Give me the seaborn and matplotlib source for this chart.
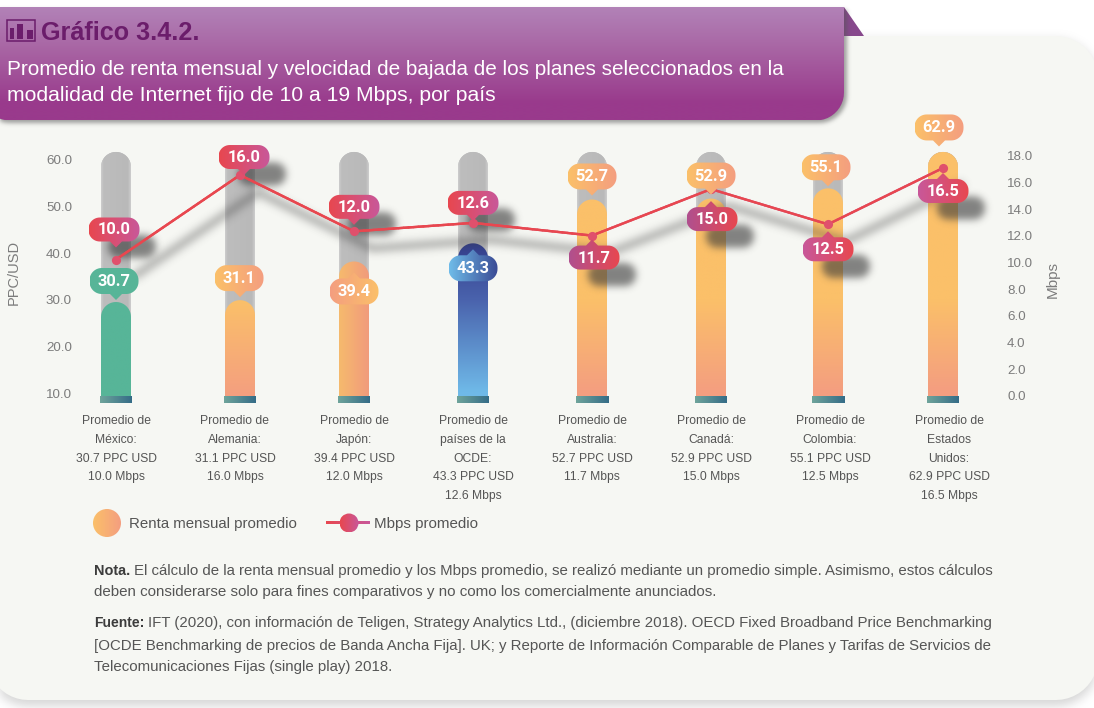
import numpy as np
import pandas as pd
import matplotlib
matplotlib.use("Agg")
import matplotlib.pyplot as plt
import seaborn as sns
from matplotlib.path import Path
from matplotlib.patches import PathPatch, Rectangle, Circle, Polygon
from matplotlib.collections import LineCollection
from matplotlib.colors import to_rgb
from matplotlib.transforms import IdentityTransform
from matplotlib.figure import Figure
from matplotlib.backends.backend_agg import FigureCanvasAgg

# ---------- data ----------
paises_lineas = [["México:"], ["Alemania:"], ["Japón:"], ["países de la", "OCDE:"],
                 ["Australia:"], ["Canadá:"], ["Colombia:"], ["Estados", "Unidos:"]]
ppc = [30.7, 31.1, 39.4, 43.3, 52.7, 52.9, 55.1, 62.9]
mbps = [10.0, 16.0, 12.0, 12.6, 11.7, 15.0, 12.5, 16.5]
ppc_ticks = [10, 20, 30, 40, 50, 60]
mbps_ticks = [0, 2, 4, 6, 8, 10, 12, 14, 16, 18]
titulo = "Gráfico 3.4.2."
subtitulo = ["Promedio de renta mensual y velocidad de bajada de los planes seleccionados en la",
             "modalidad de Internet fijo de 10 a 19 Mbps, por país"]

# ---------- layout / style (pixels of the 1094x708 picture) ----------
W, H = 1094, 708
AX_L, AX_R, AX_T, AX_B = 56.5, 1008.5, 140.0, 403.0
BAR_NUDGE = [0, 5, 0, 0, 0, 0, -2, -6]
PPC_LABEL = [(-2, -21), (-1, -22), (0, 30), (0, 25), (0, -23), (0, -23), (-2, -21), (-4, -24.5)]
MB_LABEL = [(-2, -30), (4, -18), (0, -24.5), (0, -20), (2, 22), (1, 30), (0, 25), (0, 23)]
RED, PINK, PINK2 = "#e8474f", "#c8589a", "#b0508f"
ORANGE, SALMON = "#fbc069", "#f49e80"
GREEN = "#57b598"
TXT = "#555555"
TICK = "#7c7c7c"
FONT = "Liberation Sans"

sns.set_theme(style="white")
plt.rcParams["font.family"] = [FONT, "DejaVu Sans"]
fig = plt.figure(figsize=(W / 100, H / 100), dpi=100, facecolor="white")


def px_axes(z):
    a = fig.add_axes([0, 0, 1, 1], zorder=z)
    a.set_xlim(0, W)
    a.set_ylim(H, 0)
    a.axis("off")
    a.patch.set_alpha(0)
    return a


def chart_axes(z):
    a = fig.add_axes([AX_L / W, 1 - AX_B / H, (AX_R - AX_L) / W, (AX_B - AX_T) / H], zorder=z)
    a.patch.set_alpha(0)
    return a


def ramp(stops, n=256):
    ts = np.linspace(0, 1, n)
    pos = [s[0] for s in stops]
    rgb = np.array([to_rgb(s[1]) for s in stops])
    return np.stack([np.interp(ts, pos, rgb[:, i]) for i in range(3)], axis=1)


def grad(a, extent, stops, vertical=True, clip=None, clip_tr=None, z=2):
    c = ramp(stops)
    img = c[:, None, :] if vertical else c[None, :, :]
    xl, yl = a.get_xlim(), a.get_ylim()
    im = a.imshow(img, extent=extent, origin="upper", aspect="auto", zorder=z, interpolation="bilinear")
    if clip is not None:
        im.set_clip_path(clip, clip_tr if clip_tr is not None else a.transData)
    a.set_xlim(xl)
    a.set_ylim(yl)
    return im


def arc(cx, cy, r, a0, a1, n=12):
    t = np.radians(np.linspace(a0, a1, n))
    return np.c_[cx + r * np.cos(t), cy + r * np.sin(t)]


def rounded(x0, y0, x1, y1, rtl=0, rtr=0, rbr=0, rbl=0, ptr=None):
    """Closed polygon in y-down pixels; ptr=(side, x) adds a small pointer."""
    pts = []
    if rtl:
        pts.append(arc(x0 + rtl, y0 + rtl, rtl, 180, 270))
    else:
        pts.append(np.array([[x0, y0]]))
    if ptr and ptr[0] == "top":
        pts.append(np.array([[ptr[1] - 6, y0], [ptr[1], y0 - 6], [ptr[1] + 6, y0]]))
    if rtr:
        pts.append(arc(x1 - rtr, y0 + rtr, rtr, 270, 360))
    else:
        pts.append(np.array([[x1, y0]]))
    if rbr:
        pts.append(arc(x1 - rbr, y1 - rbr, rbr, 0, 90))
    else:
        pts.append(np.array([[x1, y1]]))
    if ptr and ptr[0] == "bottom":
        pts.append(np.array([[ptr[1] + 6, y1], [ptr[1], y1 + 6], [ptr[1] - 6, y1]]))
    if rbl:
        pts.append(arc(x0 + rbl, y1 - rbl, rbl, 90, 180))
    else:
        pts.append(np.array([[x0, y1]]))
    v = np.vstack(pts)
    return Path(np.vstack([v, v[0]]), closed=True)


def to_disp(path):
    v = path.vertices.copy()
    v[:, 1] = H - v[:, 1]
    return Path(v, closed=True)


def blur_layer(painter, sigma, colour, peak):
    f = Figure(figsize=(W / 100, H / 100), dpi=100, facecolor=(0, 0, 0, 0))
    c = FigureCanvasAgg(f)
    a = f.add_axes([0, 0, 1, 1])
    a.set_xlim(0, W)
    a.set_ylim(H, 0)
    a.axis("off")
    a.patch.set_alpha(0)
    painter(a)
    c.draw()
    al = np.asarray(c.buffer_rgba())[:, :, 3].astype(float) / 255
    x = np.arange(-int(3 * sigma), int(3 * sigma) + 1)
    k = np.exp(-x ** 2 / (2 * sigma ** 2))
    k /= k.sum()
    al = np.apply_along_axis(lambda r: np.convolve(r, k, mode="same"), 0, al)
    al = np.apply_along_axis(lambda r: np.convolve(r, k, mode="same"), 1, al)
    rgba = np.zeros((H, W, 4))
    rgba[:, :, :3] = to_rgb(colour)
    rgba[:, :, 3] = np.clip(al * peak, 0, 1)
    return rgba


# ---------- page ----------
bg = px_axes(0)
card = rounded(-12, 36, 1098, 700, 40, 42, 42, 40)
bg.imshow(blur_layer(lambda a: a.add_patch(PathPatch(rounded(-12, 40, 1098, 706, 40, 42, 42, 40), fc="k", lw=0)),
                     5, "#888888", 0.34), extent=(0, W, H, 0), aspect="auto", zorder=0)
bg.add_patch(PathPatch(card, fc="#f6f7f3", ec="none", zorder=1))
bg.add_patch(Polygon([(844, 7), (864, 36), (844, 36)], closed=True, fc="#87488c", ec="none", zorder=1))
banner = rounded(-20, 7, 844, 120.5, 0, 0, 28, 30)
bg.imshow(blur_layer(lambda a: a.add_patch(PathPatch(rounded(-20, 10, 847, 123, 0, 0, 28, 30), fc="k", lw=0)),
                     2.2, "#555555", 0.55), extent=(0, W, H, 0), aspect="auto", zorder=1.5)
grad(bg, (-20, 844, 120.5, 7), [(0, "#b283b8"), (0.35, "#a967a5"), (0.85, "#993a8c"), (1, "#993a8c")],
     clip=banner, z=2)
bg.set_xlim(0, W)
bg.set_ylim(H, 0)

icon = "#6b1d6b"
bg.add_patch(Rectangle((7, 19.5), 28, 21.5, fc="none", ec=icon, lw=1.1, zorder=3))
for x0, x1, y0 in [(10, 14, 28), (16.7, 23, 23.5), (26.5, 32.5, 30)]:
    bg.add_patch(Rectangle((x0, y0), x1 - x0, 38.5 - y0, fc=icon, ec="none", zorder=3))


def fit(a, x, y, s, x_end=None, size=10, **kw):
    """y is the text baseline in pixels."""
    t = a.text(x, y, s, fontsize=size, va="baseline", ha="left", zorder=6, **kw)
    if x_end is not None:
        w = t.get_window_extent(fig.canvas.get_renderer()).width
        t.set_fontsize(size * (x_end - x) / w)
    return t


fit(bg, 41, 40, titulo, 199, 18, color=icon, fontweight="bold")
fit(bg, 7, 75, subtitulo[0], 787, 14.5, color="white")
fit(bg, 7, 101, subtitulo[1], 497, 14.5, color="white")

# ---------- chart ----------
n = len(ppc)
PX_PPC = 4.66
PX_MB = 14.08
df = pd.DataFrame({
    "pais": [f"{i}" for i in range(n)],
    "ppc": ppc,
    "fondo": [max(ppc)] * n,
})

ax = chart_axes(1)
sns.barplot(data=df, x="pais", y="fondo", ax=ax, color="#bcbcbc", width=0.252, saturation=1, legend=False)
n_back = len(ax.patches)
sns.barplot(data=df, x="pais", y="ppc", ax=ax, color="#f8b070", width=0.252, saturation=1, legend=False)
ax.set_xlim(-0.5, n - 0.5)
ax.set_ylim(30.7 - (AX_B - 302) / PX_PPC, 30.7 + (302 - AX_T) / PX_PPC)
ax.set_xlabel("")
ax.set_ylabel("")
ax.set_yticks([])
sns.despine(ax=ax, left=True, bottom=True)
ax.grid(False)

labels = [f"Promedio de\n" + "\n".join(p) + f"\n{v:.1f} PPC USD\n{m:.1f} Mbps"
          for p, v, m in zip(paises_lineas, ppc, mbps)]
ax.set_xticks(range(n))
ax.set_xticklabels(labels, fontsize=8.7, color=TXT, linespacing=1.75)
ax.tick_params(axis="x", length=0, pad=8.8)

ybase_px = AX_B
styles = ["green", "warm", "warmh", "blue", "warm", "warm", "warm", "warm"]
unit = (AX_R - AX_L) / n


def bar_stops(style, top):
    span = ybase_px - top
    if style == "blue":
        mid = min(0.95, max(0.05, (300 - top) / span))
        return [(0, "#343f8c"), (mid, "#4a63ad"), (0.93, "#6fb9e8"), (1, "#6fb9e8")]
    k = max(0.0, (300 - top) / span)
    return [(0, ORANGE), (k, ORANGE), (0.95, SALMON), (1, SALMON)]


for i in range(n):
    cx_data = i + BAR_NUDGE[i] / unit
    for j, p in enumerate((ax.patches[i], ax.patches[n_back + i])):
        p.set_x(cx_data - p.get_width() / 2)
        x0d, x1d = p.get_x(), p.get_x() + p.get_width()
        y1d = p.get_height()
        (xa, ya), (xb, yb) = ax.transData.transform([(x0d, y1d), (x1d, ax.get_ylim()[0])])
        top_px = H - ya
        r = (xb - xa) / 2
        clip = to_disp(rounded(xa, top_px, xb, H - yb, r, r, 0, 0))
        p.set_clip_path(clip, IdentityTransform())
        p.set_linewidth(0)
        ext = (x0d, x1d, ax.get_ylim()[0], y1d)
        if j == 0:
            grad(ax, ext, [(0, "#cfcfcf"), (0.08, "#bdbdbd"), (0.9, "#b9b9b9"), (1, "#cfcfcf")],
                 vertical=False, clip=clip, clip_tr=IdentityTransform(), z=3)
        else:
            st = styles[i]
            if st == "green":
                stops = [(0, GREEN), (1, GREEN)]
                v = True
            elif st == "warmh":
                stops = [(0, "#f6ba6d"), (1, "#f19b7c")]
                v = False
            else:
                stops = bar_stops(st, top_px)
                v = True
            grad(ax, ext, stops, vertical=v, clip=clip, clip_tr=IdentityTransform(), z=4)
    # teal foot of each column
    xc_px = ax.transData.transform((cx_data, 0))[0]
    fx0, fx1 = (xc_px - 16 - AX_L) / unit - 0.5, (xc_px + 16 - AX_L) / unit - 0.5
    ybot = ax.get_ylim()[0]
    grad(ax, (fx0, fx1, ybot, ybot + 7 / PX_PPC), [(0, "#6fa49b"), (1, "#356c87")], vertical=False, z=5)

# tick-label axes: the printed scales sit slightly off the drawn marks in the original
axl = chart_axes(1.2)
axl.set_ylim(10 + (393 - AX_B) / PX_PPC, 10 + (393 - AX_T) / PX_PPC)
axl.set_xticks([])
axl.set_yticks(ppc_ticks)
axl.set_yticklabels([f"{v:.1f}" for v in ppc_ticks], fontsize=9.6, color=TICK)
axl.spines[:].set_visible(False)
axl.grid(False)
axl.set_position([72 / W, 1 - AX_B / H, (AX_R - AX_L) / W, (AX_B - AX_T) / H])
axl.tick_params(axis="y", length=0, pad=0)

axr = chart_axes(1.2)
PX_TR = (396 - 156) / 18
axr.set_ylim((396 - AX_B) / PX_TR, (396 - AX_T) / PX_TR)
axr.set_xticks([])
axr.yaxis.tick_right()
axr.set_yticks(mbps_ticks)
axr.set_yticklabels([f"{v:.1f}" for v in mbps_ticks], fontsize=9.6, color=TICK)
axr.tick_params(axis="y", length=0, pad=0)
axr.spines[:].set_visible(False)
axr.grid(False)
axr.set_position([AX_L / W, 1 - AX_B / H, (1007 - AX_L) / W, (AX_B - AX_T) / H])

# line on its own scale
ax2 = chart_axes(3)
xpos = np.arange(n) + np.array(BAR_NUDGE) / unit
sns.lineplot(x=xpos, y=mbps, ax=ax2, sort=False, color=RED, lw=1.7, marker="o", markersize=6.6,
             markeredgewidth=0, markerfacecolor="#e0506c", legend=False, zorder=3)
ax2.set_xlim(-0.5, n - 0.5)
ax2.set_ylim(-(AX_B - 400.3) / PX_MB, (400.3 - AX_T) / PX_MB)
ax2.axis("off")
segs, cols = [], []
red_c, pink_c = np.array(to_rgb("#e8474f")), np.array(to_rgb(PINK))
for i in range(n - 1):
    xs = np.linspace(xpos[i], xpos[i + 1], 25)
    ys = np.linspace(mbps[i], mbps[i + 1], 25)
    for k in range(24):
        segs.append([(xs[k], ys[k]), (xs[k + 1], ys[k + 1])])
        t = np.clip((xs[k] - 2) / 5, 0, 1)
        cols.append(red_c * (1 - t) + pink_c * t)
ax2.add_collection(LineCollection(segs, colors=cols, linewidths=1.7, zorder=2.5, capstyle="round"))

# geometry of callouts in pixels
pt_ppc = [(ax.transData.transform((xpos[i], ppc[i]))[0], H - ax.transData.transform((xpos[i], ppc[i]))[1])
          for i in range(n)]
pt_mb = [(ax2.transData.transform((xpos[i], mbps[i]))[0], H - ax2.transData.transform((xpos[i], mbps[i]))[1])
         for i in range(n)]


def callout(anchor, off, w, h):
    cx, cy = anchor[0] + off[0], anchor[1] + off[1]
    side = "bottom" if off[1] < 0 else "top"
    return cx, cy, rounded(cx - w / 2, cy - h / 2, cx + w / 2, cy + h / 2, h * .47, h * .47, h * .47, h * .47,
                           ptr=(side, anchor[0] if abs(off[0]) < 3 else cx))


SH_DX, SH_DY = 18, 17


def paint_line_shadow(a):
    a.plot([p[0] + SH_DX for p in pt_mb], [p[1] + SH_DY for p in pt_mb], color="k", lw=4, solid_capstyle="round")


def paint_blob_shadow(a):
    for i in range(n):
        cx, cy, _ = callout(pt_mb[i], MB_LABEL[i], 44, 20)
        a.add_patch(PathPatch(rounded(cx - 24 + SH_DX, cy - 11.5 + SH_DY, cx + 24 + SH_DX, cy + 11.5 + SH_DY,
                                      11, 11, 11, 11), fc="k", lw=0))


sh = px_axes(2)
sh.imshow(blur_layer(paint_line_shadow, 4.5, "#3a3a3a", 0.55), extent=(0, W, H, 0), aspect="auto", zorder=1)
sh.imshow(blur_layer(paint_blob_shadow, 3.8, "#3a3a3a", 0.62), extent=(0, W, H, 0), aspect="auto", zorder=1)
sh.set_xlim(0, W)
sh.set_ylim(H, 0)

fg = px_axes(4)


def draw_callout(anchor, off, w, h, stops, txt):
    cx, cy, path = callout(anchor, off, w, h)
    grad(fg, (cx - w / 2, cx + w / 2, cy + h / 2 + 7, cy - h / 2 - 7), stops, vertical=False, clip=path, z=3)
    fg.text(cx, cy + 0.5, txt, color="white", ha="center", va="center", fontsize=11.8, fontweight="bold",
            family=["Roboto", "DejaVu Sans"], zorder=5)


warm_lr = [(0, ORANGE), (1, SALMON)]
warm_rl = [(0, SALMON), (1, ORANGE)]
ppc_stops = [[(0, GREEN), (1, GREEN)], warm_lr, warm_rl, [(0, "#6fbce9"), (1, "#3a4a94")],
             warm_lr, warm_lr, warm_lr, warm_lr]
rp = [(0, RED), (1, PINK)]
pr = [(0, PINK), (1, RED)]
pr2 = [(0, PINK2), (1, RED)]
mb_stops = [rp, rp, rp, rp, pr2, pr2, pr, pr]
for i in range(n):
    draw_callout(pt_ppc[i], PPC_LABEL[i], 49, 26, ppc_stops[i], f"{ppc[i]:.1f}")
    draw_callout(pt_mb[i], MB_LABEL[i], 51, 24, mb_stops[i], f"{mbps[i]:.1f}")
fg.set_xlim(0, W)
fg.set_ylim(H, 0)

# axis titles
fg.text(14, 272, "PPC/USD", rotation=90, ha="center", va="center", fontsize=10.5, color=TICK)
fg.text(1052.5, 280, "Mbps", rotation=90, ha="center", va="center", fontsize=11, color=TICK)

# legend
c1 = Circle((107, 523), 14, transform=fg.transData)
grad(fg, (93, 121, 537, 509), warm_lr, vertical=False, clip=c1.get_path().transformed(c1.get_patch_transform()), z=3)
fit(fg, 129, 528, "Renta mensual promedio", 298.5, 10.5, color="#555555")
grad(fg, (326, 370, 524.2, 521.8), rp, vertical=False, z=3)
c2 = Circle((349, 523), 9.5)
grad(fg, (339.5, 358.5, 532.5, 513.5), rp, vertical=False, clip=c2.get_path().transformed(c2.get_patch_transform()), z=4)
fit(fg, 374, 528, "Mbps promedio", 479, 10.5, color="#555555")
fg.set_xlim(0, W)
fg.set_ylim(H, 0)

# notes
fit(fg, 94, 575, "Nota.", 130, 10, color="#3c3c3c", fontweight="bold")
fit(fg, 133.5, 575, "El cálculo de la renta mensual promedio y los Mbps promedio, se realizó mediante un promedio simple. Asimismo, estos cálculos",
    996, 10, color=TXT)
fit(fg, 94, 596, "deben considerarse solo para fines comparativos y no como los comercialmente anunciados.", 720, 10, color=TXT)
fit(fg, 94, 627, "Fuente:", 144.5, 10, color="#3c3c3c", fontweight="bold")
fit(fg, 148, 627, "IFT (2020), con información de Teligen, Strategy Analytics Ltd., (diciembre 2018). OECD Fixed Broadband Price Benchmarking",
    996, 10, color=TXT)
fit(fg, 94, 650, "[OCDE Benchmarking de precios de Banda Ancha Fija]. UK; y Reporte de Información Comparable de Planes y Tarifas de Servicios de",
    996, 10, color=TXT)
fit(fg, 94, 671, "Telecomunicaciones Fijas (single play) 2018.", 394, 10, color=TXT)

fig.savefig("out.png", dpi=100, facecolor="white")
